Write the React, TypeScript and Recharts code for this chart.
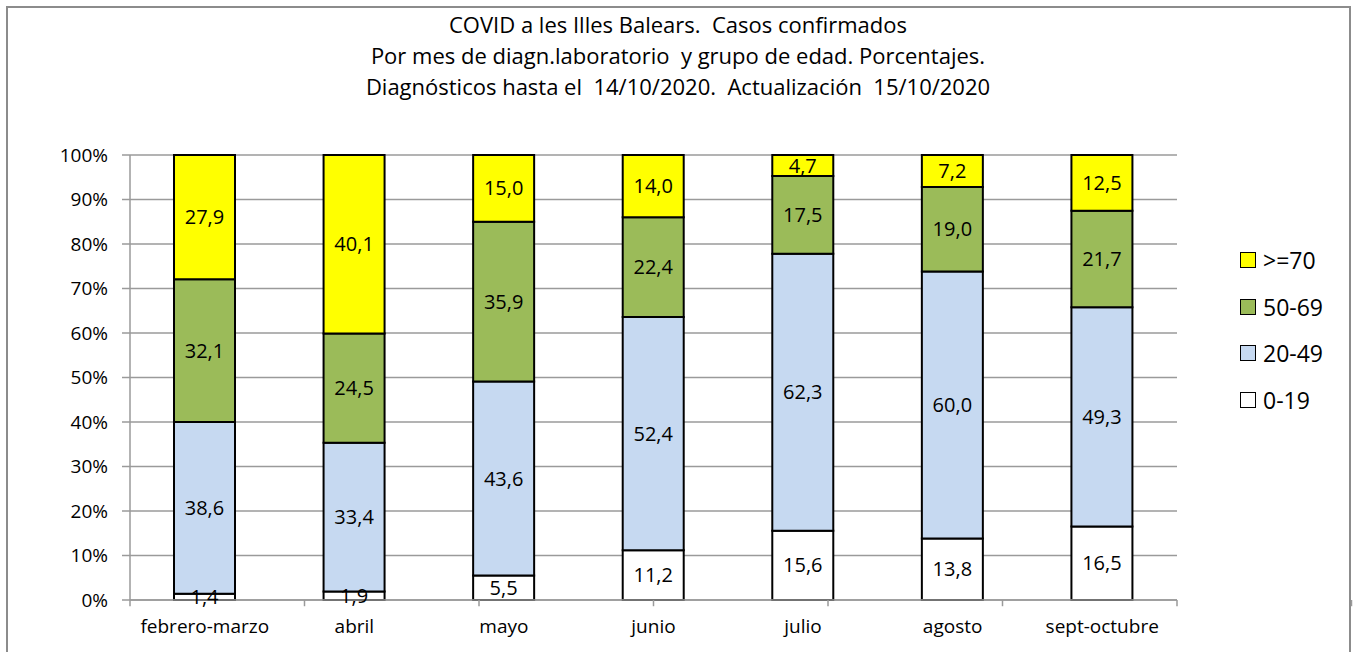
import { Bar, BarChart, CartesianGrid, LabelList, Legend, ReferenceLine, XAxis, YAxis } from "recharts"

const categories = ["febrero-marzo", "abril", "mayo", "junio", "julio", "agosto", "sept-octubre"]
const age0_19 = [1.4, 1.9, 5.5, 11.2, 15.6, 13.8, 16.5]
const age20_49 = [38.6, 33.4, 43.6, 52.4, 62.3, 60.0, 49.3]
const age50_69 = [32.1, 24.5, 35.9, 22.4, 17.5, 19.0, 21.7]
const age70 = [27.9, 40.1, 15.0, 14.0, 4.7, 7.2, 12.5]
const yTicks = [0, 0.1, 0.2, 0.3, 0.4, 0.5, 0.6, 0.7, 0.8, 0.9, 1]
// category boundaries, where the x axis gets its small tick marks
const edgeTicks = [0, 1, 2, 3, 4, 5, 6, 7]

const titleLines = [
  "COVID a les Illes Balears.  Casos confirmados",
  "Por mes de diagn.laboratorio  y grupo de edad. Porcentajes.",
  "Diagnósticos hasta el  14/10/2020.  Actualización  15/10/2020",
]

const series = [
  { key: "a0", name: "0-19", color: "#FFFFFF" },
  { key: "a20", name: "20-49", color: "#C6D9F1" },
  { key: "a50", name: "50-69", color: "#9BBB59" },
  { key: "a70", name: ">=70", color: "#FFFF00" },
]

const data = categories.map((name, i) => ({
  name,
  a0: age0_19[i],
  a20: age20_49[i],
  a50: age50_69[i],
  a70: age70[i],
}))

const font = "'Open Sans', 'Noto Sans', sans-serif"
const grid = "#9a9a9a"

function LegendBox({ payload }: any) {
  const items = [...(payload || [])].reverse()
  return (
    <div style={{ fontFamily: font }}>
      {items.map((p: any) => (
        <div key={p.value} style={{ display: "flex", alignItems: "center", height: 46.5 }}>
          <span
            style={{
              display: "inline-block",
              width: 14,
              height: 14,
              background: p.color,
              border: "1.5px solid #000",
              marginRight: 7,
            }}
          />
          <span style={{ fontSize: 23, color: "#000" }}>{p.value}</span>
        </div>
      ))}
    </div>
  )
}

export default function App() {
  return (
    <div style={{ position: "absolute", left: 0, top: 0, width: 1353, height: 652, overflow: "hidden", background: "#fff" }}>
      <div
        style={{
          position: "absolute",
          left: 6,
          top: 6,
          width: 1341,
          height: 700,
          border: "2px solid #8c8c8c",
        }}
      />
      <div
        style={{
          position: "absolute",
          left: 0,
          top: 9,
          width: 1356,
          textAlign: "center",
          fontFamily: font,
          fontSize: 22,
          lineHeight: "31px",
          whiteSpace: "pre",
          color: "#000",
        }}
      >
        {titleLines.map((t) => (
          <div key={t}>{t}</div>
        ))}
      </div>
      <BarChart
        width={1353}
        height={652}
        data={data}
        stackOffset="expand"
        margin={{ top: 155, right: 176, left: 0, bottom: 12 }}
        style={{ position: "absolute", left: 0, top: 0 }}
      >
        <CartesianGrid xAxisId="cat" vertical={false} stroke={grid} strokeWidth={1.5} />
        <XAxis xAxisId="edges" type="number" domain={[0, 7]} hide />
        <XAxis
          xAxisId="cat"
          dataKey="name"
          tickLine={false}
          axisLine={{ stroke: grid, strokeWidth: 1.5 }}
          tick={{ fill: "#000", fontSize: 19, fontFamily: font }}
          tickMargin={14}
          height={40}
          interval={0}
        />
        <YAxis
          ticks={yTicks}
          domain={[0, 1]}
          width={130}
          tickSize={8}
          tickMargin={14}
          tickFormatter={(v: number) => `${Math.round(v * 100)}%`}
          tick={{ fill: "#000", fontSize: 19, fontFamily: font }}
          axisLine={{ stroke: grid, strokeWidth: 1.5 }}
          tickLine={{ stroke: grid, strokeWidth: 1.5 }}
        />
        {edgeTicks.map((k) => (
          <ReferenceLine
            key={k}
            xAxisId="edges"
            segment={[
              { x: k, y: 0 },
              { x: k, y: -0.014 },
            ]}
            ifOverflow="visible"
            stroke={grid}
            strokeWidth={1.5}
          />
        ))}
        <Legend
          layout="horizontal"
          verticalAlign="middle"
          align="center"
          wrapperStyle={{ left: 1240, top: 237, width: 110 }}
          content={<LegendBox />}
        />
        {series.map((s) => (
          <Bar
            key={s.key}
            xAxisId="cat"
            dataKey={s.key}
            name={s.name}
            stackId="age"
            fill={s.color}
            stroke="#000"
            strokeWidth={2}
            barSize={61}
            isAnimationActive={false}
          >
            <LabelList
              dataKey={s.key}
              position="center"
              formatter={(v: any) => Number(v).toFixed(1).replace(".", ",")}
              style={{ fill: "#000", fontSize: 20, fontFamily: font }}
            />
          </Bar>
        ))}
      </BarChart>
    </div>
  )
}
